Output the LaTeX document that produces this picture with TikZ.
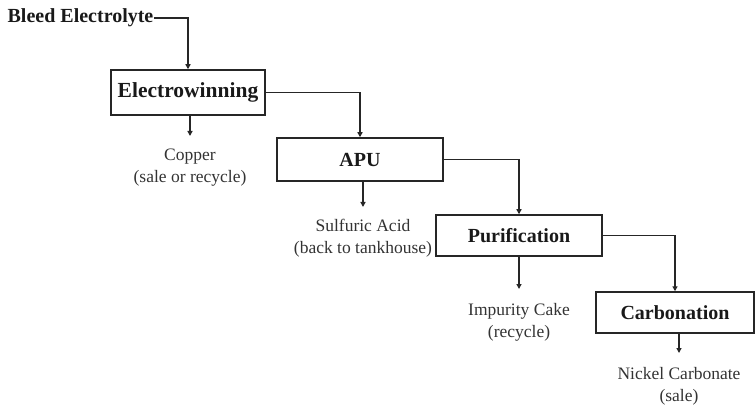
\documentclass[tikz,border=0pt]{standalone}
\usepackage{fontspec}
\setmainfont{Liberation Serif}
\usetikzlibrary{arrows.meta}
\begin{document}
\begin{tikzpicture}[x=1pt,y=-1pt,
  line width=1.3pt,
  flow/.style={draw=black!85, line width=1.4pt, -{Triangle[length=5pt,width=5pt]}},
  proc/.style={draw=black!85, line width=1.5pt, inner sep=0pt, font=\fontsize{20}{22}\selectfont\bfseries, text=black!90},
  outp/.style={align=center, inner sep=0pt, font=\fontsize{17.5}{22}\selectfont, text=black!80}]
\useasboundingbox (0,0) rectangle (755,406);
\node[anchor=west, inner sep=0pt, font=\fontsize{20}{22}\selectfont\bfseries, text=black!90] (bleed) at (7,18) {Bleed Electrolyte};
\node[proc, minimum width=154pt, minimum height=45pt, font=\fontsize{21.5}{22}\selectfont\bfseries] (ew) at (188,92.5) {Electrowinning};
\node[proc, minimum width=166pt, minimum height=43pt] (apu) at (360,159.5) {APU};
\node[proc, minimum width=166pt, minimum height=41pt] (pur) at (519,235.5) {Purification};
\node[proc, minimum width=158pt, minimum height=41pt] (carb) at (675,312.5) {Carbonation};
\node[outp, anchor=north] (cu) at (190,148) {Copper\\(sale or recycle)};
\node[outp, anchor=north] (sa) at (363,219) {Sulfuric Acid\\(back to tankhouse)};
\node[outp, anchor=north] (ic) at (519,303) {Impurity Cake\\(recycle)};
\node[outp, anchor=north] (nc) at (679,367) {Nickel Carbonate\\(sale)};
\draw[flow] (bleed.east) -| (ew.north);
\draw[flow] (ew.east) -| (apu.north);
\draw[flow] (apu.east) -| (pur.north);
\draw[flow] (pur.east) -| (carb.north);
\draw[flow, shorten >=12pt] (ew.south -| cu.north) -- (cu.north);
\draw[flow, shorten >=12pt] (apu.south -| sa.north) -- (sa.north);
\draw[flow, shorten >=14pt] (pur.south -| ic.north) -- (ic.north);
\draw[flow, shorten >=14pt] (carb.south -| nc.north) -- (nc.north);
\end{tikzpicture}
\end{document}
